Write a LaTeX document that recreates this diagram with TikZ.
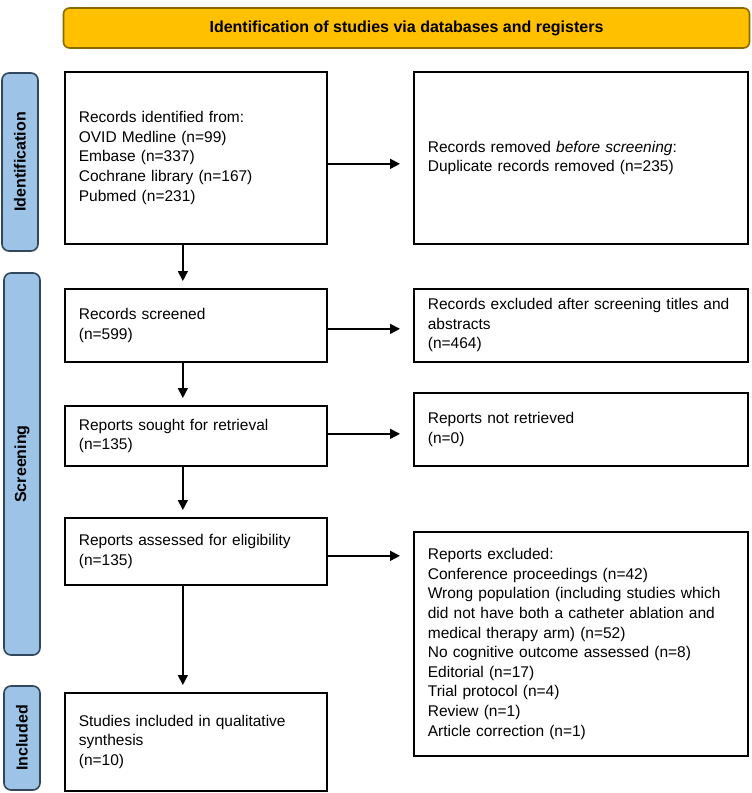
\documentclass[tikz,border=0pt]{standalone}
\usepackage{fontspec}
\setmainfont{Liberation Sans}
\usetikzlibrary{arrows.meta}
\definecolor{gold}{HTML}{FFC000}
\definecolor{goldline}{HTML}{8C6A00}
\definecolor{lblue}{HTML}{9DC3E6}
\definecolor{lblueline}{HTML}{33475C}
\begin{document}
\begin{tikzpicture}[x=1pt,y=-1pt,
  box/.style={draw=black, line width=1.7pt, fill=white, anchor=north west, align=left,
    inner xsep=14pt, inner ysep=0pt, font=\fontsize{15.5}{19.6}\selectfont},
  lab/.style={draw=lblueline, fill=lblue, line width=1.6pt, rounded corners=7pt, rotate=90,
    minimum height=36pt, inner sep=0pt, font=\bfseries\fontsize{16}{19}\selectfont},
  banner/.style={draw=goldline, fill=gold, line width=1.6pt, rounded corners=6pt,
    minimum width=686pt, minimum height=40pt, inner sep=0pt, font=\bfseries\fontsize{16}{19}\selectfont},
  arr/.style={line width=1.5pt, -{Triangle[length=10pt,width=10pt]}}]
\useasboundingbox (0,0) rectangle (752,793);

\node[banner] (top) at (406.5,28) {Identification of studies via databases and registers};

\node[lab, minimum width=178pt] (lid) at (20,162) {Identification};
\node[lab, minimum width=382pt] (lsc) at (22,464) {Screening};
\node[lab, minimum width=104pt] (lin) at (22,738) {Included};

% left column
\node[box, minimum width=262pt, minimum height=172pt, text width=234pt] (b1) at (64,71)
  {Records identified from:\\OVID Medline (n=99)\\Embase (n=337)\\Cochrane library (n=167)\\Pubmed (n=231)};
\node[box, minimum width=262pt, minimum height=73pt, text width=234pt] (b2) at (64,288)
  {Records screened\\(n=599)};
\node[box, minimum width=262pt, minimum height=60pt, text width=234pt] (b3) at (64,405)
  {Reports sought for retrieval\\(n=135)};
\node[box, minimum width=262pt, minimum height=67pt, text width=234pt] (b4) at (64,517)
  {Reports assessed for eligibility\\(n=135)};
\node[box, minimum width=262pt, minimum height=98pt, text width=234pt] (b5) at (64,692)
  {Studies included in qualitative\\synthesis\\(n=10)};

% right column
\node[box, minimum width=334pt, minimum height=172pt, text width=306pt] (r1) at (413,71)
  {Records removed \textit{before screening}:\\Duplicate records removed (n=235)};
\node[box, minimum width=334pt, minimum height=73pt, text width=306pt] (r2) at (413,288)
  {Records excluded after screening titles and\\abstracts\\(n=464)};
\node[box, minimum width=334pt, minimum height=73pt, text width=306pt] (r3) at (413,392)
  {Reports not retrieved\\(n=0)};
\node[box, minimum width=334pt, minimum height=224pt, text width=306pt] (r4) at (413,531)
  {Reports excluded:\\Conference proceedings (n=42)\\Wrong population (including studies which\\did not have both a catheter ablation and\\medical therapy arm) (n=52)\\No cognitive outcome assessed (n=8)\\Editorial (n=17)\\Trial protocol (n=4)\\Review (n=1)\\Article correction (n=1)};

% vertical arrows
\draw[arr, shorten >=7pt] ([xshift=-13pt]b1.south) -- ([xshift=-13pt]b2.north);
\draw[arr, shorten >=7pt] ([xshift=-13pt]b2.south) -- ([xshift=-13pt]b3.north);
\draw[arr, shorten >=7pt] ([xshift=-13pt]b3.south) -- ([xshift=-13pt]b4.north);
\draw[arr, shorten >=7pt] ([xshift=-13pt]b4.south) -- ([xshift=-13pt]b5.north);

% horizontal arrows
\draw[arr, shorten >=13pt] ([yshift=-6pt]b1.east) -- ([yshift=-6pt]b1.east -| r1.west);
\draw[arr, shorten >=13pt] ([yshift=-3.5pt]b2.east) -- ([yshift=-3.5pt]b2.east -| r2.west);
\draw[arr, shorten >=13pt] ([yshift=2pt]b3.east) -- ([yshift=2pt]b3.east -| r3.west);
\draw[arr, shorten >=13pt] ([yshift=-4.5pt]b4.east) -- ([yshift=-4.5pt]b4.east -| r4.west);
\end{tikzpicture}
\end{document}
